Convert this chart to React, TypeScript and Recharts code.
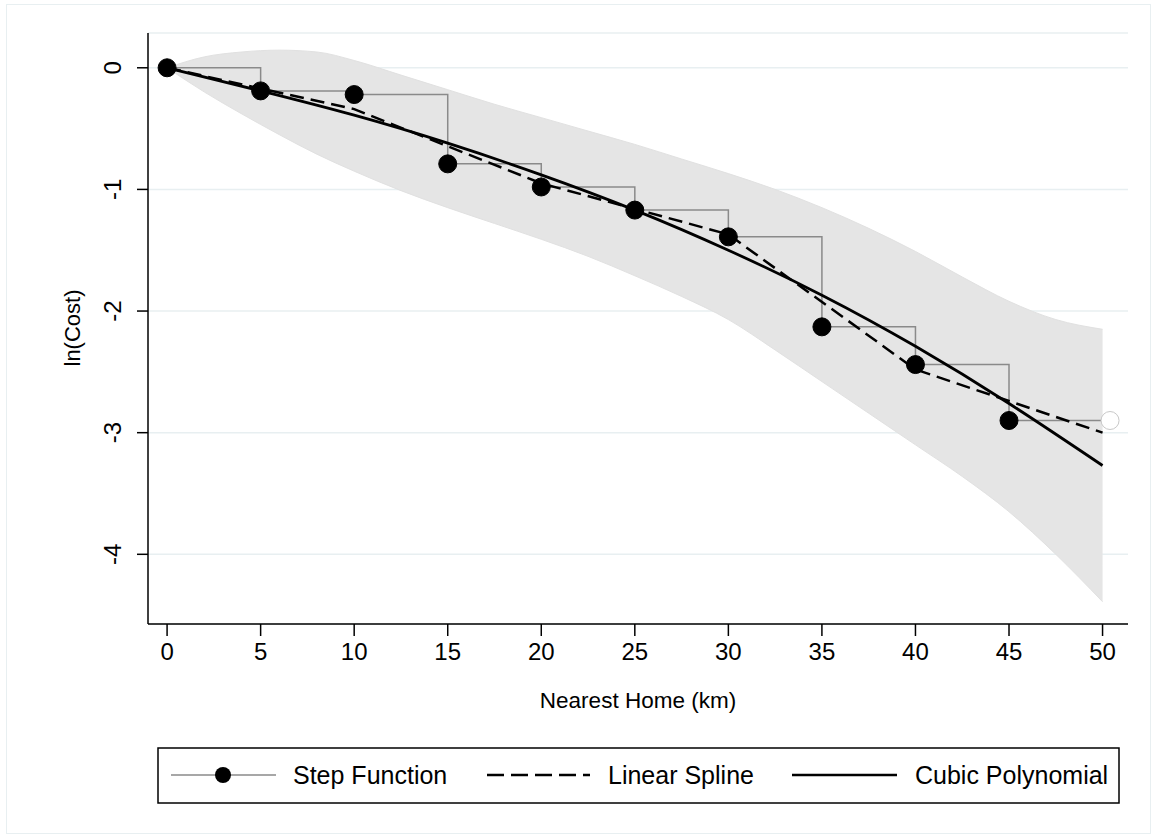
import { Area, CartesianGrid, ComposedChart, Line, XAxis, YAxis } from "recharts";

const FONT = '"Liberation Sans", Arial, sans-serif';

// step function: mean ln(cost) per 5 km bin, the last entry closes the final step
const stepX = [0, 5, 10, 15, 20, 25, 30, 35, 40, 45, 50.4];
const stepY = [0, -0.19, -0.22, -0.79, -0.98, -1.17, -1.39, -2.13, -2.44, -2.9, -2.9];

// linear spline with knots every 10 km
const splineX = [0, 10, 20, 30, 40, 50];
const splineY = [0, -0.34, -0.95, -1.37, -2.48, -3.0];

// cubic polynomial fit
const cubicX = [0, 5, 10, 15, 20, 25, 30, 35, 40, 45, 50];
const cubicY = [0, -0.19, -0.39, -0.62, -0.88, -1.17, -1.5, -1.87, -2.29, -2.76, -3.27];

// 95% confidence band around the cubic fit
const bandX = [0, 2, 4, 6, 8, 10, 12.5, 15, 17.5, 20, 22.5, 25, 27.5, 30, 32.5, 35, 37.5, 40, 42.5, 45, 47.5, 50];
const bandHi = [0, 0.09, 0.13, 0.145, 0.13, 0.06, -0.06, -0.18, -0.3, -0.41, -0.52, -0.63, -0.75, -0.87, -1.0, -1.15, -1.32, -1.51, -1.72, -1.92, -2.07, -2.15];
const bandLo = [0, -0.2, -0.38, -0.55, -0.71, -0.85, -1.01, -1.15, -1.28, -1.41, -1.55, -1.71, -1.88, -2.07, -2.32, -2.58, -2.84, -3.1, -3.36, -3.65, -4.0, -4.39];

const xTicks = [0, 5, 10, 15, 20, 25, 30, 35, 40, 45, 50];
const yTicks = [0, -1, -2, -3, -4];

const stepData = stepX.map((x, i) => ({ x, y: stepY[i] }));
const splineData = splineX.map((x, i) => ({ x, y: splineY[i] }));
const cubicData = cubicX.map((x, i) => ({ x, y: cubicY[i] }));
const bandData = bandX.map((x, i) => ({ x, band: [bandLo[i], bandHi[i]] }));

function StepDot(props: any) {
  const { cx, cy, index } = props;
  const last = index === stepData.length - 1;
  return (
    <circle
      key={`dot-${index}`}
      cx={cx}
      cy={cy}
      r={9}
      fill={last ? "#ffffff" : "#000000"}
      stroke={last ? "#c8c8c8" : "#000000"}
      strokeWidth={1}
    />
  );
}

function XTick(props: any) {
  const { x, y, payload } = props;
  return (
    <text x={x} y={y} dy={22} textAnchor="middle" fontSize={24} fontFamily={FONT} fill="#000">
      {payload.value}
    </text>
  );
}

function YTick(props: any) {
  const { x, y, payload } = props;
  return (
    <text
      transform={`translate(${x - 1}, ${y}) rotate(-90)`}
      textAnchor="middle"
      fontSize={24}
      fontFamily={FONT}
      fill="#000"
    >
      {payload.value}
    </text>
  );
}

// axis titles and legend box drawn on top of the chart
function Overlay() {
  const text = { fontFamily: FONT, fontSize: 25, fill: "#000" };
  return (
    <svg width={1153} height={837} style={{ position: "absolute", left: 0, top: 0, pointerEvents: "none" }}>
      <text x={638} y={708} textAnchor="middle" fontFamily={FONT} fontSize={22.5} fill="#000">
        Nearest Home (km)
      </text>
      <text transform="translate(80, 328) rotate(-90)" textAnchor="middle" fontFamily={FONT} fontSize={22} fill="#000">
        ln(Cost)
      </text>
      <rect x={158} y={748} width={961} height={55} fill="#fff" stroke="#000" strokeWidth={1.5} />
      <line x1={171} x2={276} y1={775} y2={775} stroke="#8a8a8a" strokeWidth={1.5} />
      <circle cx={223} cy={775} r={8} fill="#000" />
      <text x={293} y={784} {...text}>Step Function</text>
      <line x1={487} x2={590} y1={775} y2={775} stroke="#000" strokeWidth={2.5} strokeDasharray="17 7" />
      <text x={608} y={784} {...text}>Linear Spline</text>
      <line x1={792} x2={897} y1={775} y2={775} stroke="#000" strokeWidth={2.5} />
      <text x={915} y={784} {...text}>Cubic Polynomial</text>
    </svg>
  );
}

export default function App() {
  return (
    <div style={{ position: "absolute", left: 0, top: 0, width: 1153, height: 837, background: "#fff" }}>
      <div
        style={{
          position: "absolute",
          left: 6,
          top: 4,
          width: 1143,
          height: 828,
          border: "1.5px solid #e8eff1",
        }}
      />
      <ComposedChart width={1153} height={837} margin={{ top: 33, right: 25, bottom: 173, left: 0 }}>
        <CartesianGrid vertical={false} stroke="#e8eff1" strokeWidth={1.5} />
        <XAxis
          type="number"
          dataKey="x"
          domain={[-1.02, 51.36]}
          ticks={xTicks}
          allowDataOverflow
          height={40}
          tickSize={12}
          tickMargin={2}
          tick={<XTick />}
          axisLine={{ stroke: "#000", strokeWidth: 1.5 }}
          tickLine={{ stroke: "#000", strokeWidth: 1.5 }}
        />
        <YAxis
          type="number"
          domain={[-4.573, 0.286]}
          ticks={yTicks}
          allowDataOverflow
          width={148}
          tickSize={11}
          tickMargin={15}
          tick={<YTick />}
          axisLine={{ stroke: "#000", strokeWidth: 1.5 }}
          tickLine={{ stroke: "#000", strokeWidth: 1.5 }}
        />
        <Area
          data={bandData}
          dataKey="band"
          type="monotone"
          fill="#e5e5e5"
          fillOpacity={1}
          stroke="#e1e1e1"
          strokeWidth={1}
          isAnimationActive={false}
        />
        <Line
          data={stepData}
          dataKey="y"
          type="stepAfter"
          stroke="#8a8a8a"
          strokeWidth={1.5}
          dot={StepDot}
          activeDot={false}
          isAnimationActive={false}
        />
        <Line
          data={splineData}
          dataKey="y"
          type="linear"
          stroke="#000"
          strokeWidth={2.5}
          strokeDasharray="14 7"
          dot={false}
          activeDot={false}
          isAnimationActive={false}
        />
        <Line
          data={cubicData}
          dataKey="y"
          type="natural"
          stroke="#000"
          strokeWidth={2.8}
          dot={false}
          activeDot={false}
          isAnimationActive={false}
        />
      </ComposedChart>
      <Overlay />
    </div>
  );
}
